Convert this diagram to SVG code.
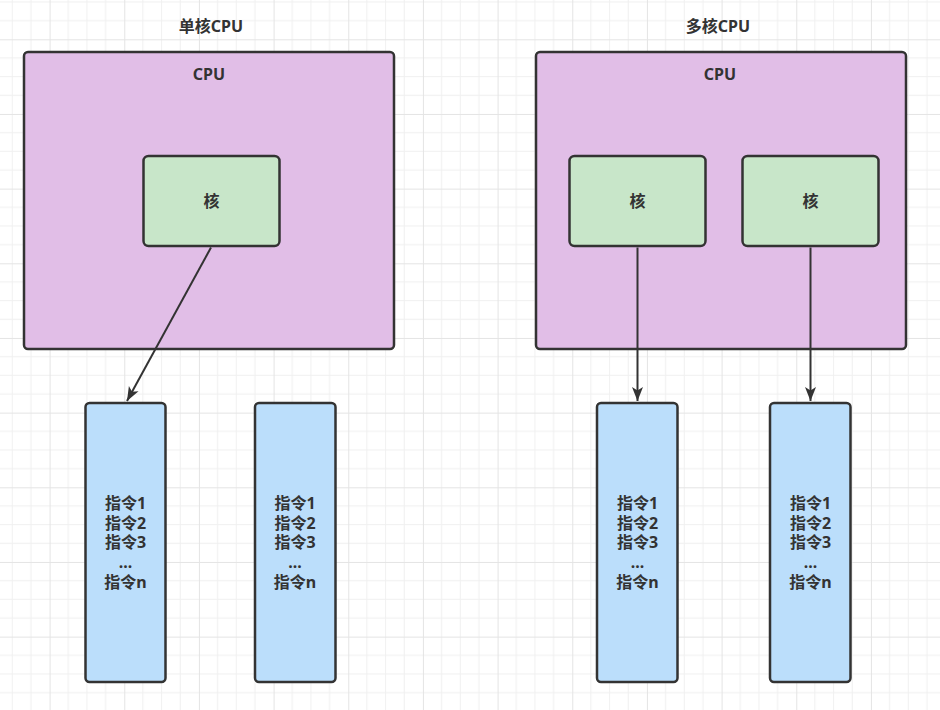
<svg xmlns="http://www.w3.org/2000/svg" width="940" height="710" viewBox="0 0 940 710">
  <defs>
    <pattern id="grid" patternUnits="userSpaceOnUse" x="49.6" y="39.3" width="74.667" height="74.667">
      <path d="M18.667 0V74.667M37.333 0V74.667M56 0V74.667M0 18.667H74.667M0 37.333H74.667M0 56H74.667" stroke="#f0f0f0" stroke-width="1" fill="none"/>
      <path d="M0.5 0V74.667M0 0.5H74.667" stroke="#e4e4e4" stroke-width="1" fill="none"/>
    </pattern>
    <marker id="arrow" markerUnits="userSpaceOnUse" markerWidth="16" markerHeight="12" refX="14" refY="5.5" orient="auto" viewBox="0 0 16 11">
      <path d="M0,0 L14,5.5 L0,11 L3.5,5.5 Z" fill="#333333"/>
    </marker>
    <style>
      .cpu { fill: #e1bee7; stroke: #333333; stroke-width: 2.5; }
      .core { fill: #c8e6c9; stroke: #333333; stroke-width: 2.5; }
      .ins { fill: #bbdefb; stroke: #333333; stroke-width: 2.5; }
      text { font-family: "Noto Sans", "Noto Sans CJK SC", sans-serif; font-weight: bold; font-size: 16px; fill: #333333; text-anchor: middle; }
      .edge { stroke: #333333; stroke-width: 2; fill: none; marker-end: url(#arrow); }
    </style>
  </defs>
  <rect x="0" y="0" width="940" height="710" fill="#ffffff"/>
  <rect x="0" y="0" width="940" height="710" fill="url(#grid)"/>

  <g id="title-single">
    <text x="211" y="32">单核CPU</text>
  </g>
  <g id="title-multi">
    <text x="718" y="32">多核CPU</text>
  </g>

  <g id="cpu-single">
    <rect class="cpu" x="24" y="52" width="370" height="297" rx="4"/>
    <text x="209" y="80">CPU</text>
  </g>
  <g id="cpu-multi">
    <rect class="cpu" x="536" y="52" width="370" height="297" rx="4"/>
    <text x="720" y="80">CPU</text>
  </g>

  <g id="core-single">
    <rect class="core" x="143.5" y="156" width="136" height="90" rx="5"/>
    <text x="211.5" y="207">核</text>
  </g>
  <g id="core-multi-1">
    <rect class="core" x="569.5" y="156" width="136" height="90" rx="5"/>
    <text x="637.5" y="207">核</text>
  </g>
  <g id="core-multi-2">
    <rect class="core" x="742.5" y="156" width="136" height="90" rx="5"/>
    <text x="810.5" y="207">核</text>
  </g>

  <g id="ins-1">
    <rect class="ins" x="85.5" y="403" width="80" height="279" rx="4"/>
    <text x="125.5" y="509">指令1</text>
    <text x="125.5" y="528.7">指令2</text>
    <text x="125.5" y="548.4">指令3</text>
    <text x="125.5" y="568.1">...</text>
    <text x="125.5" y="587.8">指令n</text>
  </g>
  <g id="ins-2">
    <rect class="ins" x="255" y="403" width="80.5" height="279" rx="4"/>
    <text x="295" y="509">指令1</text>
    <text x="295" y="528.7">指令2</text>
    <text x="295" y="548.4">指令3</text>
    <text x="295" y="568.1">...</text>
    <text x="295" y="587.8">指令n</text>
  </g>
  <g id="ins-3">
    <rect class="ins" x="597" y="403" width="80.5" height="279" rx="4"/>
    <text x="637.5" y="509">指令1</text>
    <text x="637.5" y="528.7">指令2</text>
    <text x="637.5" y="548.4">指令3</text>
    <text x="637.5" y="568.1">...</text>
    <text x="637.5" y="587.8">指令n</text>
  </g>
  <g id="ins-4">
    <rect class="ins" x="770" y="403" width="80.5" height="279" rx="4"/>
    <text x="810.5" y="509">指令1</text>
    <text x="810.5" y="528.7">指令2</text>
    <text x="810.5" y="548.4">指令3</text>
    <text x="810.5" y="568.1">...</text>
    <text x="810.5" y="587.8">指令n</text>
  </g>

  <g id="connectors">
    <line class="edge" x1="211" y1="247.5" x2="127" y2="401"/>
    <line class="edge" x1="637.5" y1="247.5" x2="637.5" y2="401"/>
    <line class="edge" x1="810.5" y1="247.5" x2="810.5" y2="401" stroke-width="2.5"/>
  </g>
</svg>
